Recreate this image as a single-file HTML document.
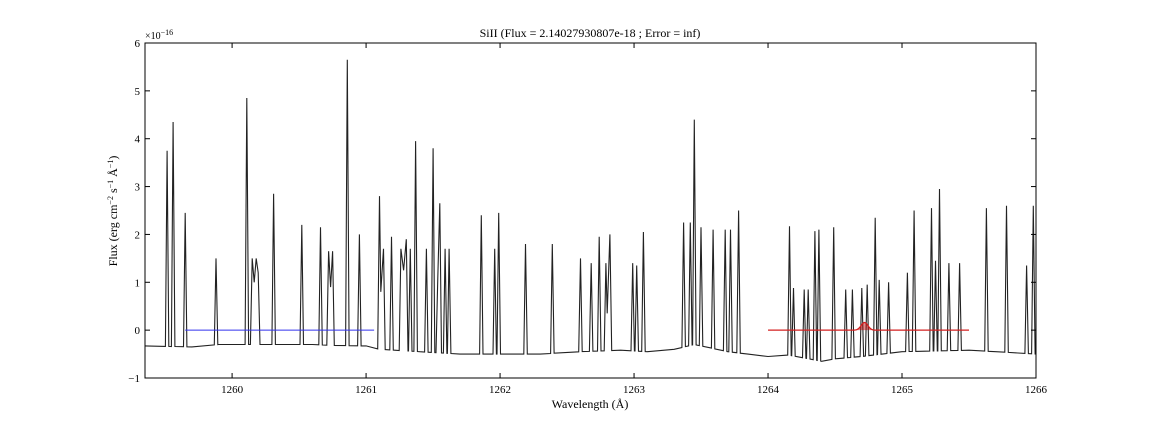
<!DOCTYPE html>
<html><head><meta charset="utf-8"><style>
body{margin:0;background:#fff}
svg text{font-family:"Liberation Serif","DejaVu Serif",serif;fill:#000}
</style></head><body>
<svg id="chart" width="1152" height="432" viewBox="0 0 1152 432" xmlns="http://www.w3.org/2000/svg">
<rect width="1152" height="432" fill="#fff"/>
<text x="590" y="37" font-size="12" text-anchor="middle">SiII (Flux = 2.14027930807e-18 ; Error = inf)</text>
<text x="590" y="408" font-size="12" text-anchor="middle">Wavelength (Å)</text>
<text transform="translate(117,211) rotate(-90)" font-size="12" text-anchor="middle">Flux (erg cm<tspan dy="-4" font-size="8">−2</tspan><tspan dy="4"> s</tspan><tspan dy="-4" font-size="8">−1</tspan><tspan dy="4"> Å</tspan><tspan dy="-4" font-size="8">−1</tspan><tspan dy="4">)</tspan></text>
<text x="145" y="39" font-size="10">×10<tspan dy="-4" font-size="8">−16</tspan></text>
<g id="plot"></g>
</svg>
<script>
const xTicks=[1260,1261,1262,1263,1264,1265,1266];
const yTicks=[-1,0,1,2,3,4,5,6];
const peakWl=[1259.515,1259.56,1259.65,1259.88,1260.11,1260.15,1260.165,1260.18,1260.195,1260.31,1260.52,1260.66,1260.72,1260.735,1260.75,1260.86,1260.95,1261.10,1261.11,1261.13,1261.19,1261.26,1261.28,1261.30,1261.33,1261.37,1261.45,1261.50,1261.535,1261.55,1261.59,1261.62,1261.86,1261.96,1261.99,1262.19,1262.39,1262.60,1262.68,1262.74,1262.79,1262.80,1262.82,1262.99,1263.02,1263.07,1263.37,1263.42,1263.45,1263.50,1263.59,1263.68,1263.72,1263.78,1264.16,1264.19,1264.27,1264.30,1264.35,1264.38,1264.49,1264.58,1264.63,1264.70,1264.74,1264.80,1264.83,1264.90,1265.04,1265.09,1265.22,1265.25,1265.28,1265.35,1265.43,1265.63,1265.78,1265.93,1265.98];
const peakFlux=[3.75,4.35,2.45,1.5,4.85,1.5,1.0,1.5,1.2,2.85,2.2,2.15,1.65,0.9,1.65,5.65,2.0,2.8,0.8,1.7,1.95,1.7,1.25,1.9,1.7,3.95,1.7,3.8,1.1,2.65,1.7,1.7,2.4,1.7,2.45,1.8,1.8,1.5,1.4,1.95,1.4,0.35,2.0,1.4,1.35,2.05,2.25,2.25,4.4,2.15,2.1,2.1,2.1,2.5,2.17,0.88,0.85,0.85,2.07,2.1,2.15,0.85,0.85,0.88,0.95,2.35,1.05,1.0,1.2,2.5,2.55,1.45,2.95,1.4,1.4,2.55,2.6,1.35,2.6];
const contWl=[1259.35,1259.7,1259.9,1260.2,1260.6,1260.75,1261.0,1261.1,1261.4,1261.7,1262.0,1262.3,1262.6,1262.9,1263.1,1263.3,1263.45,1263.7,1263.85,1264.0,1264.15,1264.4,1264.5,1264.7,1265.0,1265.5,1265.7,1266.0];
const contFlux=[-0.33,-0.35,-0.3,-0.3,-0.3,-0.32,-0.33,-0.4,-0.45,-0.5,-0.5,-0.5,-0.45,-0.42,-0.45,-0.4,-0.3,-0.45,-0.5,-0.55,-0.52,-0.65,-0.6,-0.55,-0.45,-0.42,-0.45,-0.5];
const blueRange=[1259.65,1261.06];
const redRange=[1264.0,1265.5];
const fitCenter=[1264.72], fitAmp=[0.16], fitSigma=[0.025];

const X0=145,X1=1036,Y0=43,Y1=378,xmin=1259.35,xmax=1266,ymin=-1,ymax=6;
const sx=v=>X0+(v-xmin)/(xmax-xmin)*(X1-X0);
const sy=v=>Y1-(v-ymin)/(ymax-ymin)*(Y1-Y0);
const NS='http://www.w3.org/2000/svg';
const g=document.getElementById('plot');
function mk(t,a){const e=document.createElementNS(NS,t);for(const k in a)e.setAttribute(k,a[k]);g.appendChild(e);return e;}
function cont(w){for(let i=0;i<contWl.length-1;i++){if(w<=contWl[i+1]){const t=(w-contWl[i])/(contWl[i+1]-contWl[i]);return contFlux[i]+t*(contFlux[i+1]-contFlux[i]);}}return contFlux[contFlux.length-1];}
const hw=0.013;let pts=[[contWl[0],contFlux[0]]];
for(let i=0;i<peakWl.length;i++){
 const w=peakWl[i];
 const prevOk=i==0||peakWl[i-1]+hw<w-hw;
 const nextOk=i==peakWl.length-1||peakWl[i+1]-hw>w+hw;
 if(prevOk)pts.push([w-hw,cont(w-hw)]);
 pts.push([w,peakFlux[i]]);
 if(nextOk)pts.push([w+hw,cont(w+hw)]);
 if(nextOk&&i<peakWl.length-1){contWl.forEach((c,j)=>{if(c>w+hw&&c<peakWl[i+1]-hw)pts.push([c,contFlux[j]]);});}
}
pts.push([xmax,cont(xmax)]);
let p=mk('polyline',{points:pts.map(q=>sx(Math.min(xmax,Math.max(xmin,q[0]))).toFixed(1)+','+sy(q[1]).toFixed(1)).join(' '),fill:'none',stroke:'#222','stroke-width':1.1});


let b=mk('line',{x1:sx(blueRange[0]),x2:sx(blueRange[1]),y1:sy(0),y2:sy(0),stroke:'#3333ee','stroke-width':1});


let fp=[];for(let w=redRange[0];w<=redRange[1]+1e-9;w+=0.005){fp.push([w,fitAmp[0]*Math.exp(-((w-fitCenter[0])**2)/(2*fitSigma[0]**2))]);}
let fa=mk('polygon',{points:fp.map(q=>sx(q[0])+','+sy(q[1])).join(' '),fill:'rgba(200,0,0,0.45)',stroke:'none'});


let fl=mk('polyline',{points:fp.map(q=>sx(q[0])+','+sy(q[1])).join(' '),fill:'none',stroke:'#d42020','stroke-width':1.3});


let fr=mk('rect',{x:X0,y:Y0,width:X1-X0,height:Y1-Y0,fill:'none',stroke:'#000','stroke-width':1});


xTicks.forEach(v=>{const x=sx(v);mk('line',{x1:x,x2:x,y1:Y1,y2:Y1-5,stroke:'#000'});mk('line',{x1:x,x2:x,y1:Y0,y2:Y0+5,stroke:'#000'});
 const t=mk('text',{x:x,y:Y1+15,'font-size':11,'text-anchor':'middle'});t.textContent=v;
 
 });
yTicks.forEach(v=>{const y=sy(v);mk('line',{x1:X0,x2:X0+5,y1:y,y2:y,stroke:'#000'});mk('line',{x1:X1,x2:X1-5,y1:y,y2:y,stroke:'#000'});
 const t=mk('text',{x:X0-5,y:y+4,'font-size':11,'text-anchor':'end'});t.textContent=v<0?'−'+(-v):v;
 
 });
</script>
</body></html>
